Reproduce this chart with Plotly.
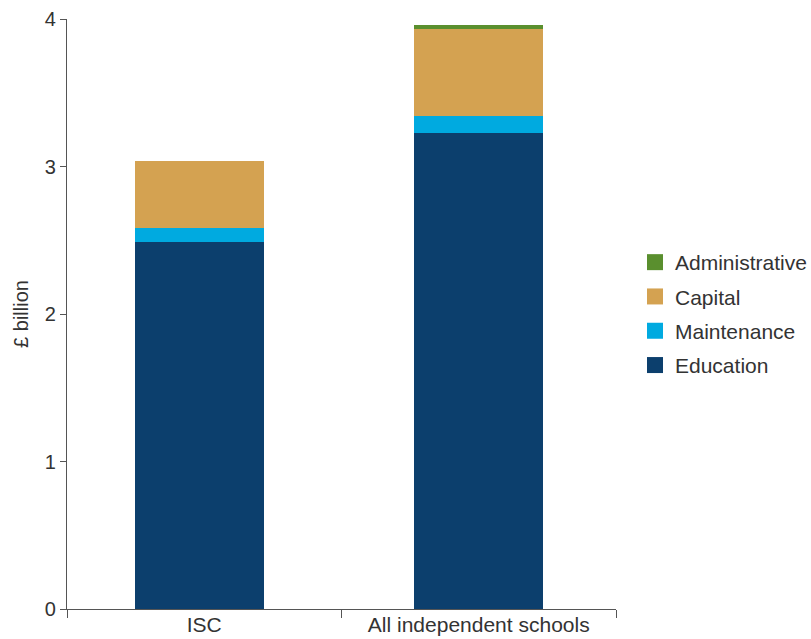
import plotly.graph_objects as go

categories = ["ISC", "All independent schools"]
education = [2.49, 3.23]
maintenance = [0.09, 0.115]
capital = [0.46, 0.59]
administrative = [0.0, 0.027]

series = [
    ("Education", education, "#0c3f6d"),
    ("Maintenance", maintenance, "#00aae0"),
    ("Capital", capital, "#d4a251"),
    ("Administrative", administrative, "#5a8f2e"),
]

fig = go.Figure()
n = len(series)
for i, (name, vals, col) in enumerate(series):
    fig.add_trace(go.Bar(x=categories, y=vals, name=name, marker_color=col,
                         marker_line_width=0, width=0.47, offset=[-0.253, -0.235],
                         legendgroup=name, showlegend=False))
    # legend entry with a larger square swatch
    fig.add_trace(go.Scatter(x=[None], y=[None], mode="markers", name=name,
                             legendgroup=name, showlegend=True, legendrank=n - i,
                             marker=dict(symbol="square", size=16, color=col)))

fig.update_layout(
    barmode="stack",
    width=811, height=639,
    margin=dict(l=67, r=195, t=19, b=30, autoexpand=False),
    plot_bgcolor="white", paper_bgcolor="white",
    font=dict(family="Liberation Sans, Arial, sans-serif", size=17, color="#333"),
    legend=dict(traceorder="grouped", xref="container", x=635 / 811, y=0.5,
                xanchor="left", yanchor="middle",
                font=dict(size=21, color="#333"), itemwidth=30, tracegroupgap=4,
                itemsizing="trace"),
    showlegend=True,
)
fig.update_xaxes(showline=True, linecolor="#555", linewidth=1.2, ticks="outside",
                 tickson="boundaries", ticklen=8, tickcolor="#555", showgrid=False,
                 tickfont=dict(size=21), automargin=False, ticklabelstandoff=-3)
fig.update_yaxes(range=[0, 4], showline=True, linecolor="#555", linewidth=1.2,
                 ticks="outside", ticklen=6, tickcolor="#555", showgrid=False,
                 zeroline=False, dtick=1, tickfont=dict(size=20), automargin=False,
                 title=dict(text="£ billion", standoff=10, font=dict(size=20)))

fig.write_html("out.html")
